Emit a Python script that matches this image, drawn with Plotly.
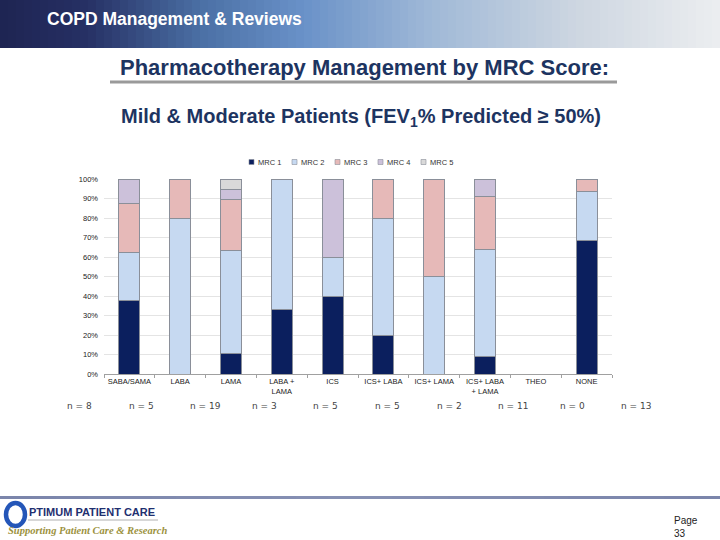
import plotly.graph_objects as go

categories = ["SABA/SAMA", "LABA", "LAMA", "LABA +<br>LAMA", "ICS", "ICS+ LABA",
              "ICS+ LAMA", "ICS+ LABA<br>+ LAMA", "THEO", "NONE"]
n_labels = ["n = 8", "n = 5", "n = 19", "n = 3", "n = 5", "n = 5", "n = 2", "n = 11", "n = 0", "n = 13"]
series_names = ["MRC 1", "MRC 2", "MRC 3", "MRC 4", "MRC 5"]
mrc1 = [37.5, 0, 10.5, 33.3, 40, 20, 0, 9.1, 0, 68.7]
mrc2 = [25.0, 80, 52.7, 66.7, 20, 60, 50, 54.5, 0, 25.0]
mrc3 = [25.0, 20, 26.3, 0, 0, 20, 50, 27.3, 0, 6.3]
mrc4 = [12.5, 0, 5.3, 0, 40, 0, 0, 9.1, 0, 0]
mrc5 = [0, 0, 5.2, 0, 0, 0, 0, 0, 0, 0]
colors = ["#0b1f5e", "#c6d9f1", "#e6b9b8", "#ccc1da", "#d9d9d9"]

W, H = 720, 540
L, R, T, B = 104, 612, 179, 374

def px(x):
    return (x - L) / (R - L)
def py(y):
    return (B - y) / (B - T)

fig = go.Figure()
for name, vals, col in zip(series_names, [mrc1, mrc2, mrc3, mrc4, mrc5], colors):
    fig.add_trace(go.Bar(x=categories, y=vals, name=name, marker_color=col,
                         marker_line=dict(color="#8a8f99", width=1), width=0.41,
                         showlegend=False))

shapes = []
ann = []
# header gradient band via strips
stops = [(0, (30, 36, 82)), (0.12, (38, 48, 100)), (0.28, (75, 112, 165)),
         (0.42, (105, 145, 200)), (0.6, (160, 185, 215)), (0.8, (205, 214, 225)), (1.0, (236, 238, 240))]
def interp(t):
    for (t0, c0), (t1, c1) in zip(stops[:-1], stops[1:]):
        if t0 <= t <= t1:
            f = (t - t0) / (t1 - t0)
            return "rgb(%d,%d,%d)" % tuple(round(a + (b - a) * f) for a, b in zip(c0, c1))
    return "rgb(236,238,240)"
nstrip = 90
for i in range(nstrip):
    x0 = i / nstrip * W
    x1 = (i + 1) / nstrip * W + 1
    shapes.append(dict(type="rect", xref="paper", yref="paper",
                       x0=px(x0), x1=px(x1), y0=py(48), y1=py(-2),
                       fillcolor=interp((i + 0.5) / nstrip), line_width=0, layer="below"))
# title underline
shapes.append(dict(type="line", xref="paper", yref="paper",
                   x0=px(110), x1=px(617), y0=py(82), y1=py(82),
                   line=dict(color="#9a9a9a", width=3)))
# footer line
for i in range(nstrip):
    x0 = i / nstrip * W
    x1 = (i + 1) / nstrip * W + 1
    t = (i + 0.5) / nstrip
    g = 1 - abs(t - 0.5) * 0.6
    shapes.append(dict(type="rect", xref="paper", yref="paper",
                       x0=px(x0), x1=px(x1), y0=py(499), y1=py(496),
                       fillcolor="rgb(%d,%d,%d)" % (int(95 + 40 * g), int(105 + 40 * g), int(150 + 30 * g)),
                       line_width=0))
# logo ring and underline
shapes.append(dict(type="circle", xref="paper", yref="paper",
                   x0=px(6), x1=px(25), y0=py(526), y1=py(503),
                   line=dict(color="#2456b8", width=4.5), fillcolor="rgba(0,0,0,0)"))
shapes.append(dict(type="line", xref="paper", yref="paper",
                   x0=px(28), x1=px(158), y0=py(520), y1=py(520),
                   line=dict(color="#b0b0b0", width=1)))

# custom compact legend
leg_x = [249, 292, 335, 378, 421]
for name, col, lx in zip(series_names, colors, leg_x):
    shapes.append(dict(type="rect", xref="paper", yref="paper",
                       x0=px(lx), x1=px(lx + 5), y0=py(164.5), y1=py(159.5),
                       fillcolor=col, line=dict(color="#8a8f99", width=0.6)))
    ann.append(dict(text=name, x=px(lx + 7), y=py(162), xref="paper", yref="paper",
                    xanchor="left", yanchor="middle", showarrow=False,
                    font=dict(family="Liberation Sans", size=7.5, color="#333333")))

ann.append(dict(text="<b>COPD Management & Reviews</b>", x=px(45), y=py(19), xref="paper", yref="paper",
                xanchor="left", yanchor="middle", showarrow=False,
                font=dict(family="Liberation Sans", size=17.5, color="white")))
ann.append(dict(text="<b>Pharmacotherapy Management by MRC Score:</b>", x=px(364), y=py(67),
                xref="paper", yref="paper", xanchor="center", yanchor="middle", showarrow=False,
                font=dict(family="Liberation Sans", size=22, color="#1d3461")))
ann.append(dict(text="<b>Mild & Moderate Patients (FEV<sub>1</sub>% Predicted ≥ 50%)</b>", x=px(361), y=py(117),
                xref="paper", yref="paper", xanchor="center", yanchor="middle", showarrow=False,
                font=dict(family="Liberation Sans", size=20, color="#1d3461")))
for i, lab in enumerate(n_labels):
    ann.append(dict(text=lab, x=px(65 + 61.6 * i), y=py(406), xref="paper", yref="paper",
                    xanchor="left", yanchor="middle", showarrow=False,
                    font=dict(family="DejaVu Sans", size=9, color="#444444")))
ann.append(dict(text="<b>PTIMUM PATIENT CARE</b>", x=px(27), y=py(512), xref="paper", yref="paper",
                xanchor="left", yanchor="middle", showarrow=False,
                font=dict(family="Liberation Sans", size=11, color="#1f3070")))
ann.append(dict(text="<b><i>Supporting Patient Care & Research</i></b>", x=px(6), y=py(530), xref="paper", yref="paper",
                xanchor="left", yanchor="middle", showarrow=False,
                font=dict(family="Liberation Serif", size=10.5, color="#9c9240")))
ann.append(dict(text="Page<br>33", x=px(672), y=py(513), xref="paper", yref="paper",
                xanchor="left", yanchor="top", showarrow=False, align="left",
                font=dict(family="Liberation Sans", size=10, color="#222222")))

fig.update_layout(
    width=W, height=H, barmode="stack",
    margin=dict(l=L, r=W - R, t=T, b=H - B, pad=0),
    paper_bgcolor="white", plot_bgcolor="white",
    font=dict(family="Liberation Sans", size=8, color="#333333"),
    showlegend=False,
    shapes=shapes, annotations=ann,
    xaxis=dict(showline=True, linecolor="#a0a0a0", ticks="outside", tickcolor="#a0a0a0", ticklen=3,
               tickson="boundaries", tickangle=0, tickfont=dict(size=7.5, color="#222222"),
               showgrid=False, range=[-0.5, 9.5]),
    yaxis=dict(range=[0, 100], dtick=10, ticksuffix="%", showgrid=True, gridcolor="#e4e4e4",
               tickfont=dict(size=7.5, color="#222222"), showline=False, zeroline=False,
               ticks="", ticklabelstandoff=5),
)
fig.write_html("out.html", config={"displayModeBar": False},
               post_script="document.body.style.margin='0px';")
